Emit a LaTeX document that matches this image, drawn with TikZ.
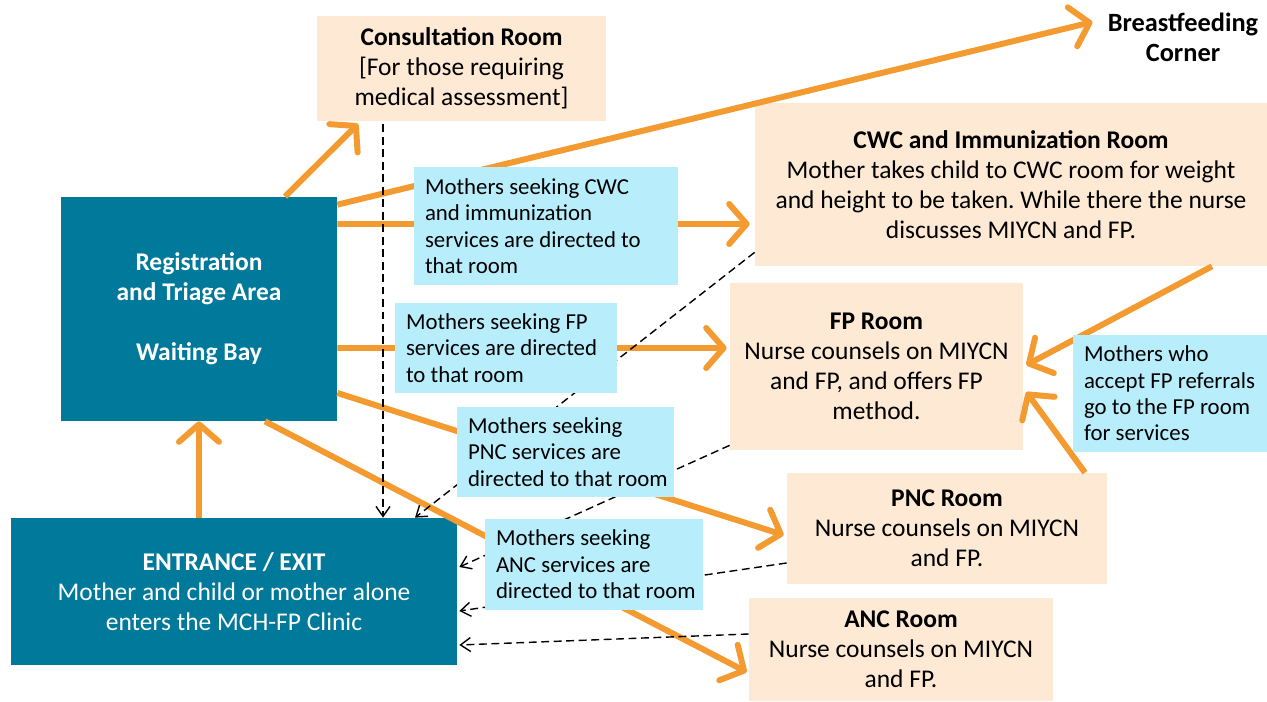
\documentclass[tikz,border=0pt]{standalone}
\usepackage{fontspec}
\setmainfont{Carlito}
\usetikzlibrary{arrows.meta}
\frenchspacing

\definecolor{clinicteal}{HTML}{00799A}
\definecolor{roompeach}{HTML}{FDE9D4}
\definecolor{noteblue}{HTML}{B8EEFC}
\definecolor{flowor}{HTML}{F39A30}

\tikzset{
  every node/.style={execute at begin node={\spaceskip=0pt\relax}},
  roombox/.style={fill=roompeach, inner sep=0pt, align=center, font=\fontsize{14.5}{17}\selectfont},
  tealbox/.style={fill=clinicteal, text=white, inner sep=0pt, align=center, font=\fontsize{14.5}{17}\selectfont},
  notebox/.style={fill=noteblue, inner xsep=0.22cm, inner ysep=0pt, align=left, font=\fontsize{13}{15}\selectfont},
  flow/.style={draw=flowor, line width=3.4pt, -{Straight Barb[length=3.5mm,width=8mm,round]}},
  back/.style={draw=black, line width=0.8pt, dash pattern=on 4.5pt off 2.6pt, -{Straight Barb[length=2mm,width=2.8mm]}}
}

\begin{document}
\begin{tikzpicture}
    \useasboundingbox (0,0) rectangle (25.34,-14.04);

    % rooms
    \node[roombox, minimum width=5.78cm, minimum height=2.10cm] (consult) at (9.23,-1.37)
        {\textbf{Consultation Room}\\{[}For those requiring\\medical assessment{]}};
    \node[tealbox, minimum width=5.52cm, minimum height=4.48cm] (reg) at (3.98,-6.18)
        {\textbf{Registration}\\\textbf{and Triage Area}\\[0.6cm]\textbf{Waiting Bay}};
    \node[tealbox, minimum width=8.92cm, minimum height=2.94cm] (entr) at (4.68,-11.83)
        {\textbf{ENTRANCE / EXIT}\\Mother and child or mother alone\\enters the MCH-FP Clinic};
    \node[roombox, minimum width=10.24cm, minimum height=3.26cm] (cwc) at (20.22,-3.69)
        {\textbf{CWC and Immunization Room}\\Mother takes child to CWC room for weight\\and height to be taken. While there the nurse\\discusses MIYCN and FP.};
    \node[roombox, minimum width=5.86cm, minimum height=3.34cm] (fp) at (17.53,-7.33)
        {\textbf{FP Room}\\Nurse counsels on MIYCN\\and FP, and offers FP\\method.};
    \node[roombox, minimum width=6.40cm, minimum height=2.22cm] (pnc) at (18.94,-10.57)
        {\textbf{PNC Room}\\Nurse counsels on MIYCN\\and FP.};
    \node[roombox, minimum width=6.08cm, minimum height=2.06cm] (anc) at (18.02,-12.99)
        {\textbf{ANC Room}\\Nurse counsels on MIYCN\\and FP.};
    \node[align=center, inner sep=0pt, font=\fontsize{15}{17}\selectfont\bfseries] (bf) at (23.66,-0.74)
        {Breastfeeding\\Corner};

    % paths from the waiting bay
    \draw[flow] ([xshift=1.72cm]reg.north) -- ([xshift=-2.07cm,yshift=-0.05cm]consult.south);
    \draw[flow] ([yshift=-0.16cm]reg.north east) -- ([xshift=-0.3cm,yshift=0.3cm]bf.west);
    \draw[flow] ([yshift=1.7cm]reg.east) -- ([xshift=-0.1cm,yshift=-0.79cm]cwc.west);
    \draw[flow] ([yshift=-0.78cm]reg.east) -- ([xshift=-0.06cm,yshift=0.37cm]fp.west);
    \draw[flow] ([yshift=-1.68cm]reg.east) -- ([xshift=-0.06cm,yshift=-0.13cm]pnc.west);
    \draw[flow] ([xshift=1.32cm]reg.south) -- ([xshift=-0.04cm,yshift=-0.45cm]anc.west);
    \draw[flow] (entr.north -| reg.south) -- (reg.south);
    \draw[flow] ([xshift=4.02cm]cwc.south) -- ([xshift=0.06cm,yshift=0.03cm]fp.east);
    \draw[flow] ([xshift=2.76cm]pnc.north) -- ([xshift=0.06cm,yshift=-0.51cm]fp.east);

    % way back out
    \coordinate (down) at ([xshift=-1.57cm]consult.south);
    \draw[back] ([yshift=-0.06cm]down) -- (down |- entr.north);
    \draw[back] ([yshift=0.28cm]cwc.south west) -- ([xshift=3.62cm]entr.north);
    \draw[back] ([yshift=0.1cm]fp.south west) -- ([xshift=0.04cm,yshift=0.49cm]entr.east);
    \draw[back] ([yshift=-0.69cm]pnc.west) -- ([xshift=0.04cm,yshift=-0.39cm]entr.east);
    \draw[back] ([yshift=0.31cm]anc.west) -- ([xshift=0.04cm,yshift=-1.07cm]entr.east);

    % notes
    \node[notebox, text width=4.84cm, minimum height=2.36cm] (cwcnote) at (10.92,-4.52)
        {Mothers seeking CWC\\and immunization\\services are directed to\\that room};
    \node[notebox, text width=4.00cm, minimum height=1.80cm] (fpnote) at (10.12,-6.96)
        {Mothers seeking FP\\services are directed\\to that room};
    \node[notebox, text width=3.90cm, minimum height=1.80cm] (pncnote) at (11.31,-9.04)
        {Mothers seeking\\PNC services are\\\mbox{directed to that room}};
    \node[notebox, text width=3.92cm, minimum height=1.82cm] (ancnote) at (11.88,-11.29)
        {Mothers seeking\\ANC services are\\\mbox{directed to that room}};
    \node[notebox, text width=3.44cm, minimum height=2.34cm] (refnote) at (23.40,-7.87)
        {Mothers who\\\mbox{accept FP referrals}\\go to the FP room\\for services};
\end{tikzpicture}
\end{document}
